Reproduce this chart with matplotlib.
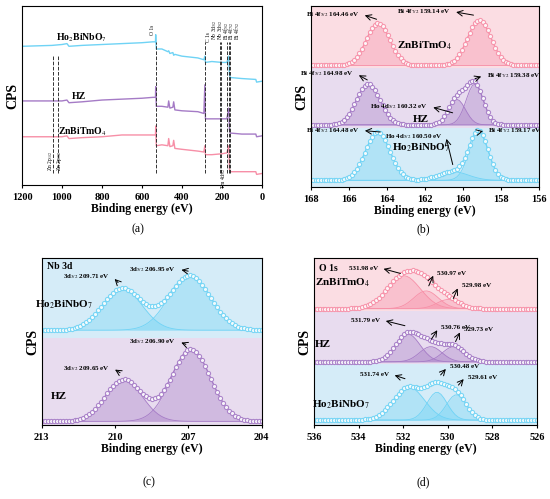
import numpy as np
import matplotlib
matplotlib.use("Agg")
import matplotlib.pyplot as plt

plt.rcParams['font.family'] = ['Liberation Serif', 'DejaVu Serif']
plt.rcParams['mathtext.fontset'] = 'stix'

PINK = '#f78fa7'; PURP = '#a57bc6'; BLUE = '#6fd3f5'
BG_PINK = '#fbdde3'; BG_PURP = '#e8dcef'; BG_BLUE = '#d5ecf8'

# ---- panel (a) survey data ----
surv_e = [1200, 1050, 1000, 975, 965, 900, 800, 700, 600, 545, 532, 531, 528, 500, 470, 466, 460, 445, 441, 435, 400, 320, 290, 285, 282, 250, 200, 175, 165, 162, 158, 150, 100, 30, 26, 0]
surv_ho = [0.775, 0.78, 0.785, 0.79, 0.775, 0.78, 0.785, 0.79, 0.795, 0.80, 0.80, 0.84, 0.76, 0.76, 0.745, 0.75, 0.735, 0.74, 0.725, 0.73, 0.72, 0.71, 0.70, 0.72, 0.685, 0.69, 0.685, 0.685, 0.72, 0.62, 0.60, 0.60, 0.595, 0.59, 0.575, 0.58]
surv_hz = [0.47, 0.47, 0.47, 0.475, 0.46, 0.465, 0.475, 0.48, 0.485, 0.49, 0.49, 0.55, 0.44, 0.44, 0.435, 0.47, 0.43, 0.435, 0.465, 0.42, 0.415, 0.41, 0.40, 0.56, 0.37, 0.37, 0.37, 0.37, 0.43, 0.31, 0.29, 0.29, 0.285, 0.285, 0.27, 0.275]
surv_zn = [0.27, 0.27, 0.27, 0.275, 0.26, 0.265, 0.27, 0.28, 0.28, 0.28, 0.28, 0.33, 0.22, 0.225, 0.22, 0.26, 0.215, 0.22, 0.25, 0.205, 0.20, 0.19, 0.185, 0.22, 0.17, 0.17, 0.175, 0.18, 0.22, 0.09, 0.075, 0.075, 0.075, 0.075, 0.06, 0.065]
surv_names = ['Ho$_2$BiNbO$_7$', 'HZ', 'ZnBiTmO$_4$']
surv_lines = [1045, 1022, 531, 285, 208, 205, 175, 164, 159]

# ---- panel (b) Bi 4f peaks: (center, height, sigma) ----
b_names = ['ZnBiTmO$_4$', 'HZ', 'Ho$_2$BiNbO$_7$']
b_base = [2.15, 1.1, 0.12]
b_peaks = [[(164.46, 0.75, 0.62), (159.14, 0.80, 0.62)],
           [(164.98, 0.72, 0.62), (160.32, 0.45, 0.45), (159.38, 0.72, 0.45)],
           [(164.48, 0.85, 0.65), (160.50, 0.15, 0.8), (159.17, 0.85, 0.5)]]
# ---- panel (c) Nb 3d ----
c_names = ['Ho$_2$BiNbO$_7$', 'HZ']
c_base = [1.25, 0.05]
c_peaks = [[(209.71, 0.55, 0.8), (206.95, 0.72, 0.85)],
           [(209.65, 0.55, 0.75), (206.90, 0.95, 0.8)]]
# ---- panel (d) O 1s ----
d_names = ['ZnBiTmO$_4$', 'HZ', 'Ho$_2$BiNbO$_7$']
d_base = [2.3, 1.25, 0.1]
d_peaks = [[(531.98, 0.65, 0.75), (530.97, 0.35, 0.55), (529.98, 0.18, 0.5)],
           [(531.79, 0.55, 0.55), (530.76, 0.3, 0.5), (529.73, 0.3, 0.5)],
           [(531.74, 0.65, 0.7), (530.48, 0.55, 0.45), (529.61, 0.5, 0.45)]]

cols3 = [PINK, PURP, BLUE]

fig = plt.figure(figsize=(5.5, 4.99), dpi=100)

def style(ax, xlim, ticks):
    ax.set_xlim(*xlim)
    ax.set_xticks(ticks)
    ax.set_yticks([])
    ax.tick_params(labelsize=7.5, length=2, direction='out')
    for t in ax.get_xticklabels():
        t.set_fontweight('bold')
    ax.set_xlabel('Binding energy (eV)', fontsize=8.5, fontweight='bold', labelpad=1)
    ax.set_ylabel('CPS', fontsize=10, fontweight='bold', labelpad=2)

def gauss(x, c, h, s):
    return h * np.exp(-0.5 * ((x - c) / s) ** 2)

def bands(ax, edges, colors):
    for (lo, hi), c in zip(edges, colors):
        ax.axhspan(lo, hi, color=c, zorder=0, lw=0)

def fitpanel(ax, xlim, names, base, peaks, colors, npts, label_pos):
    x = np.linspace(xlim[0], xlim[1], npts)
    for name, b0, pk, col, lp in zip(names, base, peaks, colors, label_pos):
        total = np.full_like(x, b0)
        for (c, h, s) in pk:
            g = gauss(x, c, h, s)
            total += g
            ax.fill_between(x, b0, b0 + g, color=col, alpha=0.35, lw=0)
            ax.plot(x, b0 + g, color=col, lw=0.6)
        ax.plot(x, total, color=col, lw=0.8)
        ax.plot(x, total, 'o', ms=3, mfc='white', mec=col, mew=0.8, alpha=0.9)
        ax.text(lp[0], lp[1], name, fontsize=8, fontweight='bold', ha='center')

def arrows(ax, specs, span, fs=5):
    pad = 0.012 * span
    for x0, y0, x1, y1, t in specs:
        ax.annotate('', xy=(x1, y1), xytext=(x0, y0), arrowprops=dict(arrowstyle='->', lw=0.7))
        if x1 > x0:
            ax.text(x1 + pad, y1, t, fontsize=fs, ha='right', va='center', fontweight='bold')
        else:
            ax.text(x1 - pad, y1, t, fontsize=fs, ha='left', va='center', fontweight='bold')

# (a)
axa = fig.add_axes([0.04, 0.629, 0.436, 0.359])
axa.set_ylim(0, 1)
for yv, col in zip([surv_ho, surv_hz, surv_zn], [BLUE, PURP, PINK]):
    axa.plot(surv_e, yv, color=col, lw=1.0)
for xv in surv_lines:
    axa.axvline(xv, ymin=0.07, ymax=0.72 if xv > 600 else 0.8, color='#333', ls='--', lw=0.7)
axa.text(900, 0.81, surv_names[0], fontsize=7, fontweight='bold', ha='center')
axa.text(915, 0.48, surv_names[1], fontsize=7, fontweight='bold', ha='center')
axa.text(900, 0.28, surv_names[2], fontsize=7, fontweight='bold', ha='center')
for xv, y, t in [(1058, 0.08, 'Zn 2p$_{1/2}$'), (1010, 0.08, 'Zn 2p$_{3/2}$'), (545, 0.84, 'O 1s'), (268, 0.8, 'C 1s'),
                 (236, 0.81, 'Nb 3d$_{3/2}$'), (208, 0.81, 'Nb 3d$_{5/2}$'), (190, -0.02, 'Tm 4d$_{5/2}$'),
                 (180, 0.81, 'Bi 4f$_{5/2}$'), (152, 0.81, 'Bi 4f$_{7/2}$'), (124, 0.81, 'Bi 4f$_{7/2}$')]:
    axa.text(xv, y, t, rotation=90, fontsize=4, ha='center', va='bottom')
style(axa, (1200, 0), [1200, 1000, 800, 600, 400, 200, 0])
fig.text(0.25, 0.535, '(a)', fontsize=8.5, ha='center')

# (b)
axb = fig.add_axes([0.565, 0.625, 0.415, 0.363])
axb.set_ylim(0, 3.2)
bands(axb, [(2.1, 3.2), (1.05, 2.1), (0, 1.05)], [BG_PINK, BG_PURP, BG_BLUE])
fitpanel(axb, (168, 156), b_names, b_base, b_peaks, cols3, 90,
         [(162, 2.45), (162.2, 1.15), (162.2, 0.65)])
arrows(axb, [(164.4, 2.95, 165.3, 3.05, 'Bi 4f$_{5/2}$ 164.46 eV'), (159.3, 3.03, 160.5, 3.1, 'Bi 4f$_{7/2}$ 159.14 eV'),
             (164.9, 1.87, 165.6, 2.0, 'Bi 4f$_{5/2}$ 164.98 eV'), (160.4, 1.3, 161.7, 1.42, 'Ho 4d$_{5/2}$ 160.32 eV'),
             (159.5, 1.9, 158.9, 1.97, 'Bi 4f$_{7/2}$ 159.38 eV'), (164.2, 0.97, 165.3, 1.0, 'Bi 4f$_{5/2}$ 164.48 eV'),
             (160.5, 0.35, 160.9, 0.9, 'Ho 4d$_{5/2}$ 160.50 eV'), (159.2, 0.97, 158.8, 1.0, 'Bi 4f$_{7/2}$ 159.17 eV')], 12)
style(axb, (168, 156), [168, 166, 164, 162, 160, 158, 156])
fig.text(0.77, 0.535, '(b)', fontsize=8.5, ha='center')

# (c)
axc = fig.add_axes([0.076, 0.148, 0.4, 0.335])
axc.set_ylim(0, 2.2)
bands(axc, [(1.15, 2.2), (0, 1.15)], [BG_BLUE, BG_PURP])
fitpanel(axc, (213, 204), c_names, c_base, c_peaks, [BLUE, PURP], 75,
         [(212.1, 1.55), (212.3, 0.35)])
arrows(axc, [(209.8, 1.85, 210.1, 1.95, '3d$_{3/2}$ 209.71 eV'), (206.9, 2.02, 207.4, 2.05, '3d$_{5/2}$ 206.95 eV'),
             (209.7, 0.67, 210.1, 0.75, '3d$_{3/2}$ 209.65 eV'), (207.0, 1.05, 207.4, 1.1, '3d$_{5/2}$ 206.90 eV')], 9)
axc.text(212.8, 2.05, 'Nb 3d', fontsize=7, fontweight='bold')
style(axc, (213, 204), [213, 210, 207, 204])
fig.text(0.27, 0.028, '(c)', fontsize=8.5, ha='center')

# (d)
axd = fig.add_axes([0.571, 0.148, 0.405, 0.335])
axd.set_ylim(0, 3.3)
bands(axd, [(2.25, 3.3), (1.2, 2.25), (0, 1.2)], [BG_PINK, BG_PURP, BG_BLUE])
fitpanel(axd, (536, 526), d_names, d_base, d_peaks, cols3, 80,
         [(534.7, 2.75), (535.6, 1.55), (534.8, 0.35)])
arrows(axd, [(532.0, 2.98, 533.0, 3.1, '531.98 eV'), (530.9, 2.7, 530.6, 3.0, '530.97 eV'), (529.8, 2.45, 529.5, 2.75, '529.98 eV'),
             (531.8, 1.95, 532.9, 2.07, '531.79 eV'), (530.8, 1.65, 530.4, 1.92, '530.76 eV'), (529.7, 1.6, 529.4, 1.88, '529.73 eV'),
             (531.8, 0.9, 532.5, 1.0, '531.74 eV'), (530.4, 0.95, 530.0, 1.15, '530.48 eV'), (529.6, 0.75, 529.2, 0.95, '529.61 eV')], 10)
axd.text(535.8, 3.05, 'O 1s', fontsize=7, fontweight='bold')
style(axd, (536, 526), [536, 534, 532, 530, 528, 526])
fig.text(0.77, 0.028, '(d)', fontsize=8.5, ha='center')

fig.savefig('out.png', dpi=100)
